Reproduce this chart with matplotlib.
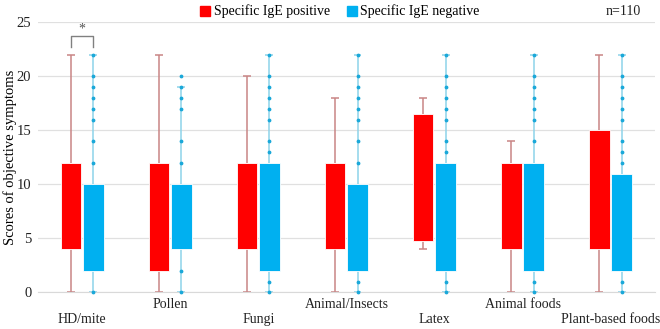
import matplotlib.pyplot as plt
from matplotlib.lines import Line2D
import numpy as np

plt.rcParams['font.family'] = ['Liberation Serif', 'DejaVu Serif']

categorias = ["HD/mite", "Pollen", "Fungi", "Animal/Insects", "Latex", "Animal foods", "Plant-based foods"]

# Specific IgE positive (rojo)
pos_min = [0, 0, 0, 0, 4, 0, 0]
pos_q1 = [4, 2, 4, 4, 4.75, 4, 4]
pos_q3 = [12, 12, 12, 12, 16.5, 12, 15]
pos_max = [22, 22, 20, 18, 18, 14, 22]

# Specific IgE negative (azul)
neg_min = [0, 0, 0, 0, 0, 0, 0]
neg_q1 = [2, 4, 2, 2, 2, 2, 2]
neg_q3 = [10, 10, 12, 10, 12, 12, 11]
neg_max = [22, 19, 22, 22, 22, 22, 22]
neg_puntos = [
    [22, 20, 19, 18, 17, 16, 14, 12, 0],
    [20, 19, 18, 17, 14, 12, 2, 0],
    [22, 20, 19, 18, 17, 16, 14, 13, 1, 0],
    [22, 20, 19, 18, 17, 16, 14, 12, 1, 0],
    [22, 20, 19, 18, 17, 16, 14, 13, 1, 0],
    [22, 20, 19, 18, 17, 16, 14, 1, 0],
    [22, 20, 19, 18, 17, 16, 14, 13, 12, 1, 0],
]

rojo, azul = "#ff0000", "#00b0f0"
bigote_rojo, bigote_azul = "#c98585", "#8dd3ea"

fig = plt.figure(figsize=(6.6, 3.29), dpi=100)
ax = fig.add_axes([0.058, 0.111, 0.934, 0.821])

x = np.arange(len(categorias))
ancho = 0.235
cap = 0.045

def dibujar(xs, mn, q1, q3, mx, color, color_bigote):
    mn, q1, q3, mx = map(np.array, (mn, q1, q3, mx))
    ax.vlines(xs, mn, q1, color=color_bigote, lw=1.1, zorder=2)
    ax.vlines(xs, q3, mx, color=color_bigote, lw=1.1, zorder=2)
    ax.hlines(mx, xs - cap, xs + cap, color=color_bigote, lw=1.1, zorder=2)
    ax.hlines(mn, xs - cap, xs + cap, color=color_bigote, lw=1.1, zorder=2)
    ax.bar(xs, q3 - q1, bottom=q1, width=ancho, color=color, edgecolor="white", lw=0.6, zorder=3)

dibujar(x - 0.13, pos_min, pos_q1, pos_q3, pos_max, rojo, bigote_rojo)
dibujar(x + 0.125, neg_min, neg_q1, neg_q3, neg_max, azul, bigote_azul)

for i, pts in enumerate(neg_puntos):
    ax.scatter([x[i] + 0.125] * len(pts), pts, s=3, color="#1aa8d9", zorder=4, clip_on=False)

ax.set_xlim(-0.5, 6.5)
ax.set_ylim(0, 25)
ax.set_yticks([0, 5, 10, 15, 20, 25])
ax.grid(axis="y", color="#e0e0e0", lw=0.9)
ax.set_axisbelow(True)
for s in ["top", "right", "left"]:
    ax.spines[s].set_visible(False)
ax.spines["bottom"].set_color("#d9d9d9")
ax.tick_params(axis="both", length=0, labelsize=10.5, colors="#222222", pad=5)
ax.set_xticks(x)
ax.set_xticklabels([])
for i, c in enumerate(categorias):
    dy = -0.045 if i % 2 else -0.1
    ax.text(x[i], dy, c, transform=ax.get_xaxis_transform(), ha="center", va="center", fontsize=10, color="#222222")
ax.set_ylabel("Scores of objective symptoms", fontsize=10.5, va="center")
ax.yaxis.set_label_coords(-0.046, 0.5)

# corchete de significancia
x1, x2 = x[0] - 0.13, x[0] + 0.125
ax.plot([x1, x1, x2, x2], [22.75, 23.75, 23.75, 22.75], color="#808080", lw=1, clip_on=False)
ax.text((x1 + x2) / 2, 24.4, "*", ha="center", va="center", fontsize=10, color="#555555")

handles = [Line2D([], [], marker="s", ls="", color=rojo, markersize=7),
           Line2D([], [], marker="s", ls="", color=azul, markersize=7)]
fig.legend(handles, ["Specific IgE positive", "Specific IgE negative"], loc="center",
           bbox_to_anchor=(0.515, 0.965), ncol=2, frameon=False, fontsize=10,
           handlelength=0.8, handletextpad=0.2, columnspacing=1.2)
fig.text(0.945, 0.965, "n=110", ha="center", va="center", fontsize=10, color="#222222")

fig.savefig("out.png", dpi=100)
